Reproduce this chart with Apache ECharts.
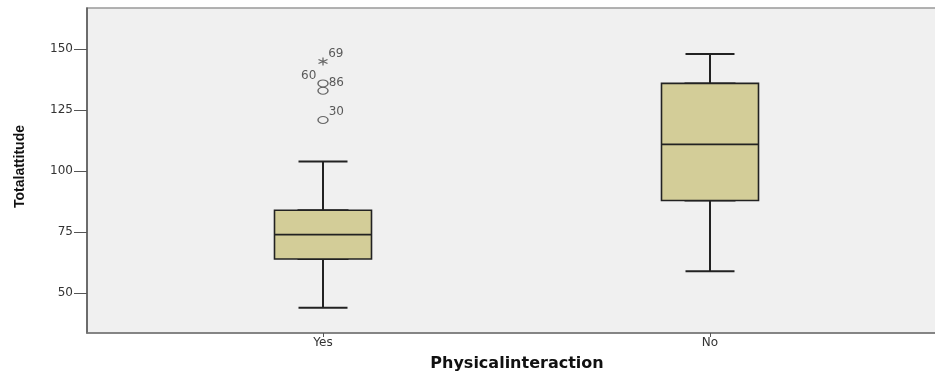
<!DOCTYPE html>
<html>
<head>
<meta charset="utf-8">
<script src="https://cdn.jsdelivr.net/npm/echarts@6/dist/echarts.min.js"></script>
<style>html,body{margin:0;padding:0;background:#fff;}#c{width:935px;height:372px;}</style>
</head>
<body>
<div id="c"></div>
<script>
// ---- data ----
const categories = ['Yes', 'No'];
const whiskerLow  = [44, 59];
const q1          = [64, 88];
const median      = [74, 111];
const q3          = [84, 136];
const whiskerHigh = [104, 148];
const outlierCategory = [0, 0, 0, 0];
const outlierValue    = [145, 136, 133, 121];
const outlierId       = ['69', '60', '86', '30'];
const outlierSymbol   = ['star', 'circle', 'circle', 'circle'];
const outlierSide     = ['right', 'left', 'right', 'right'];
const yTicks = [50, 75, 100, 125, 150];
const yMin = 33.7, yMax = 166.9;

const boxFill = '#d3cd98';
const wideFont = '"DejaVu Sans", Verdana, sans-serif';

const whiskerData = categories.map((c, i) => [whiskerLow[i], q1[i], median[i], q3[i], whiskerHigh[i]]);
const boxData = categories.map((c, i) => [q1[i], q1[i], median[i], q3[i], q3[i]]);

const asterisk = 'path://M5,0L5,10M0.7,2.5L9.3,7.5M0.7,7.5L9.3,2.5';

const outlierData = outlierValue.map((v, i) => {
  const isStar = outlierSymbol[i] === 'star';
  const left = outlierSide[i] === 'left';
  return {
    value: [outlierCategory[i], v],
    symbol: isStar ? asterisk : 'circle',
    symbolSize: isStar ? [9, 8] : [10, 7],
    itemStyle: { color: 'rgba(0,0,0,0)', borderColor: '#444', borderWidth: 1.2 },
    label: {
      show: true,
      formatter: outlierId[i],
      position: left ? 'left' : 'right',
      distance: left ? 1 : 0,
      offset: [0, -8],
      color: '#333',
      fontFamily: wideFont,
      fontSize: 12
    }
  };
});

const chart = echarts.init(document.getElementById('c'), null, { renderer: 'canvas' });
chart.setOption({
  animation: false,
  backgroundColor: '#ffffff',
  grid: [
    { left: 87, top: 8, right: -2, height: 325, outerBoundsMode: 'none', containLabel: false, show: true, backgroundColor: '#f0f0f0', borderColor: '#999', borderWidth: 1.5 },
    { left: 129.5, top: 8, right: 31.5, height: 325, outerBoundsMode: 'none', containLabel: false }
  ],
  xAxis: [
    {
      gridIndex: 0, type: 'value', min: 0, max: 1,
      axisLine: { show: true, lineStyle: { color: '#777', width: 1.5 } },
      axisTick: { show: false }, axisLabel: { show: false }, splitLine: { show: false },
      name: 'Physicalinteraction', nameLocation: 'middle', nameGap: 23,
      nameTextStyle: { fontFamily: wideFont, fontSize: 16, fontWeight: 'bold', color: '#111', padding: [0, 0, 0, 10] }
    },
    {
      gridIndex: 1, type: 'category', data: categories, position: 'top', show: false
    },
    {
      gridIndex: 1, type: 'category', data: categories, position: 'bottom',
      axisLine: { show: false },
      axisTick: { show: true, alignWithLabel: true, length: 4, lineStyle: { color: '#555' } },
      axisLabel: { color: '#333', fontFamily: wideFont, fontSize: 12, margin: 4 },
      splitLine: { show: false }
    }
  ],
  yAxis: [
    {
      gridIndex: 0, type: 'value', min: yMin, max: yMax,
      axisLine: { show: true, lineStyle: { color: '#555', width: 1.5 } },
      axisTick: { show: true, customValues: yTicks, length: 13, lineStyle: { color: '#555' } },
      axisLabel: { customValues: yTicks, color: '#333', fontFamily: wideFont, fontSize: 12, margin: 14 },
      splitLine: { show: false },
      name: 'Totalattitude', nameLocation: 'middle', nameGap: 60,
      nameTextStyle: { fontFamily: '"Liberation Sans", Arial, sans-serif', fontSize: 14, fontWeight: 'bold', color: '#111', padding: [0, 0, 0, 8] }
    },
    {
      gridIndex: 1, type: 'value', min: yMin, max: yMax, show: false, splitLine: { show: false }
    }
  ],
  series: [
    {
      type: 'boxplot', xAxisIndex: 1, yAxisIndex: 1, z: 2,
      boxWidth: [49, 49],
      data: whiskerData,
      itemStyle: { color: boxFill, borderColor: '#222', borderWidth: 2 }
    },
    {
      type: 'boxplot', xAxisIndex: 2, yAxisIndex: 1, z: 3,
      boxWidth: [97, 97],
      data: boxData,
      itemStyle: { color: boxFill, borderColor: '#222', borderWidth: 1.6 }
    },
    {
      type: 'scatter', xAxisIndex: 2, yAxisIndex: 1, z: 4,
      data: outlierData
    }
  ]
});
</script>
</body>
</html>
